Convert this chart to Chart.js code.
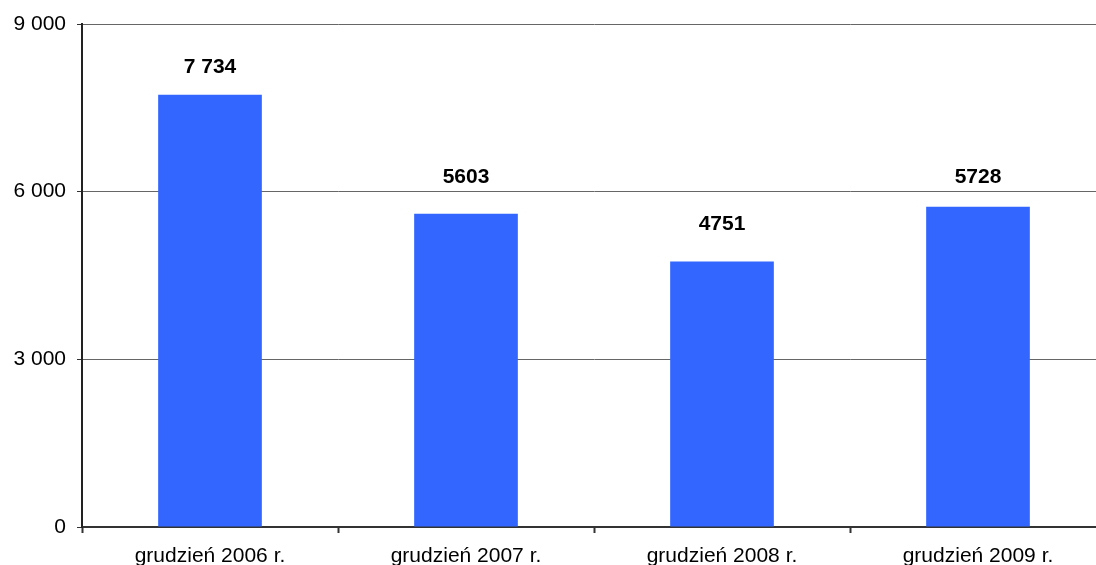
<!DOCTYPE html>
<html>
<head>
<meta charset="utf-8">
<script src="https://cdn.jsdelivr.net/npm/chart.js@4/dist/chart.umd.min.js"></script>
<style>
  html, body { margin: 0; padding: 0; background: #fff; overflow: hidden; }
  #wrap { width: 1106px; height: 580px; position: relative; }
</style>
</head>
<body>
<div id="wrap"><canvas id="c" width="1106" height="580"></canvas></div>
<script>
const categories = ["grudzień 2006 r.", "grudzień 2007 r.", "grudzień 2008 r.", "grudzień 2009 r."];
const values = [7734, 5603, 4751, 5728];
const valueLabels = ["7 734", "5603", "4751", "5728"];
const yTickLabels = { 0: "0", 3000: "3 000", 6000: "6 000", 9000: "9 000" };

const FONT = '"Liberation Sans", Arial, sans-serif';

const dataLabelPlugin = {
  id: 'dataLabels',
  afterDatasetsDraw(chart, args, opts) {
    const ctx = chart.ctx;
    const meta = chart.getDatasetMeta(0);
    ctx.save();
    ctx.font = 'bold 21px ' + FONT;
    ctx.fillStyle = '#000';
    ctx.textAlign = 'center';
    ctx.textBaseline = 'alphabetic';
    meta.data.forEach((bar, i) => {
      const gap = (opts.gaps && opts.gaps[i] !== undefined) ? opts.gaps[i] : 26;
      ctx.fillText(valueLabels[i], bar.x, bar.y - gap);
    });
    ctx.restore();
  }
};

new Chart(document.getElementById('c'), {
  type: 'bar',
  data: {
    labels: categories,
    datasets: [{
      data: values,
      backgroundColor: '#3366FF',
      borderWidth: 0,
      categoryPercentage: 1,
      barPercentage: 0.405
    }]
  },
  options: {
    responsive: false,
    animation: false,
    layout: { padding: { top: 24, left: 0, right: 0, bottom: 0 } },
    plugins: {
      legend: { display: false },
      tooltip: { enabled: false },
      dataLabels: { gaps: [22, 31, 31, 24] }
    },
    scales: {
      x: {
        grid: { display: true, drawOnChartArea: false, drawTicks: true, tickLength: 6, tickColor: '#333', tickWidth: 2 },
        border: { display: true, color: '#333', width: 2 },
        ticks: { color: '#000', font: { family: FONT, size: 21 }, padding: 11, maxRotation: 0 },
        afterFit(scale) { scale.height = 580 - 527; }
      },
      y: {
        min: 0, max: 9000,
        grid: {
          color: (c) => c.tick && c.tick.value === 0 ? '#333' : '#666',
          lineWidth: 1,
          drawTicks: true, tickLength: 5, tickColor: '#333'
        },
        border: { display: true, color: '#222', width: 2 },
        ticks: {
          stepSize: 3000,
          color: '#000',
          font: { family: FONT, size: 21 },
          padding: 11,
          callback: (v) => yTickLabels[v] !== undefined ? yTickLabels[v] : ''
        },
        afterFit(scale) { scale.width = 82; }
      }
    }
  },
  plugins: [dataLabelPlugin]
});
</script>
</body>
</html>
